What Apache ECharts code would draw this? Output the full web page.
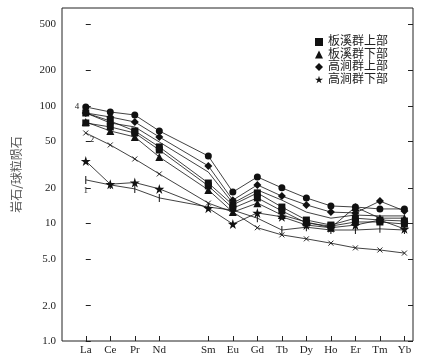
<!DOCTYPE html>
<html><head><meta charset="utf-8">
<script src="https://cdn.jsdelivr.net/npm/echarts@6/dist/echarts.min.js"></script>
<style>html,body{margin:0;padding:0;background:#fff}#c{width:428px;height:362px}</style>
</head><body><div id="c"></div>
<script>
// REE slots on the axis (Pm has a slot but no data / no label)
const elements = ['La','Ce','Pr','Nd','Pm','Sm','Eu','Gd','Tb','Dy','Ho','Er','Tm','Yb'];
const plotted  = ['La','Ce','Pr','Nd','Sm','Eu','Gd','Tb','Dy','Ho','Er','Tm','Yb'];
const yTicks = [1, 2, 5, 10, 20, 50, 100, 200, 500];

// values (chondrite-normalised), La..Yb
const ref4      = [98.1, 88.9, 83.8, 61.3, 37.5, 18.5, 24.9, 20.1, 16.5, 14.1, 13.8, 13.3, 13.3];
const ref3      = [87.2, 71.7, 66.3, 49.4, 27.4, 14.9, 19.3, 15.8, 12.5, 11.1, 11.8, 11.6, 11.6];
const ref2      = [58.9, 46.6, 35.4, 26.4, 14.9, 12.5, 9.2, 8.0, 7.4, 6.8, 6.2, 5.95, 5.6];
const ref1      = [23.5, 21.3, 19.7, 16.5, 13.8, 13.0, 11.1, 8.8, 9.3, 8.8, 8.8, 9.0, 8.8];
const bxUpperA  = [87.2, 74.5, 61.3, 44.8, 22.1, 14.4, 18.2, 13.8, 10.7, 9.7, 11.1, 10.7, 10.5];
const bxUpperB  = [71.7, 66.3, 58.9, 42.2, 20.9, 13.5, 16.5, 12.8, 10.1, 9.5, 10.3, 10.3, 9.9];
const bxLower   = [73.1, 61.3, 54.5, 36.8, 19.3, 12.5, 14.9, 11.8, 10.3, 9.2, 13.8, 11.1, 11.1];
const gjUpper   = [87.2, 80.6, 73.1, 54.5, 30.9, 15.8, 21.3, 17.1, 14.4, 12.5, 12.3, 15.5, 12.8];
const gjLower   = [34.0, 21.6, 22.3, 19.7, 13.5, 9.9, 12.3, 11.4, 9.7, 9.2, 9.7, 10.7, 9.0];

const names = ['板溪群上部', '板溪群下部', '高涧群上部', '高涧群下部'];

const STAR = 'path://M50,0L61,35L98,35L68,57L79,91L50,70L21,91L32,57L2,35L39,35Z';
const CROSS = 'path://M0,0L10,10M10,0L0,10';
const INK = '#111';

function toData(values, firstLabel) {
  return plotted.map((el, i) => {
    const d = { value: [elements.indexOf(el), values[i]] };
    if (i === 0 && firstLabel) d.label = Object.assign({ show: true, color: '#222', fontSize: 9, fontFamily: 'Liberation Serif' }, firstLabel);
    return d;
  });
}
function mk(name, values, symbol, size, opts) {
  opts = opts || {};
  return Object.assign({
    name: name,
    type: 'line',
    data: toData(values, opts.firstLabel),
    symbol: symbol,
    symbolSize: size,
    showAllSymbol: true,
    lineStyle: { color: INK, width: 0.8 },
    itemStyle: { color: INK, borderColor: INK, borderWidth: opts.bw || 0 },
    emphasis: { disabled: true },
    animation: false,
    z: 3
  }, opts.extra || {});
}

const ref3Series = mk('ref3', ref3, 'none', 0);
ref3Series.data[4].label = { show: true, formatter: '3', position: 'left', distance: 2, fontSize: 9, color: '#222', fontFamily: 'Liberation Serif' };

const series = [
  mk('ref4', ref4, 'circle', 7, { firstLabel: { formatter: '4', position: 'left', distance: 3 } }),
  ref3Series,
  mk(names[0], bxUpperA, 'rect', 7),
  mk(names[0], bxUpperB, 'rect', 7),
  mk(names[1], bxLower, 'triangle', 8),
  mk(names[2], gjUpper, 'diamond', 8),
  mk(names[3], gjLower, STAR, 10),
  mk('ref2', ref2, CROSS, 5, { bw: 0.9, firstLabel: { formatter: '2', position: 'right', distance: 1, offset: [0, 7] } }),
  mk('ref1', ref1, 'rect', [1, 8], { firstLabel: { formatter: '1', position: 'bottom', distance: 2 } })
];

const yAxisBase = {
  type: 'log', logBase: 10, min: 1, max: 682,
  axisLine: { show: false },
  axisTick: { show: true, inside: true, length: 5, customValues: yTicks, lineStyle: { color: '#222', width: 1 } },
  splitLine: { show: false },
  minorTick: { show: false }
};

const chart = echarts.init(document.getElementById('c'), null, { renderer: 'canvas' });
chart.setOption({
  animation: false,
  backgroundColor: '#fff',
  grid: { left: 62, right: 15, top: 8, bottom: 21, show: true, borderColor: '#222', borderWidth: 1, backgroundColor: 'transparent' },
  legend: {
    orient: 'vertical', left: 310, top: 31,
    itemWidth: 8, itemHeight: 8, itemGap: 0.5,
    selectedMode: false,
    textStyle: { fontSize: 12, lineHeight: 11.3, color: '#222', fontFamily: "'Liberation Serif','Noto Sans CJK SC'" },
    data: [
      { name: names[0], icon: 'rect' },
      { name: names[1], icon: 'triangle' },
      { name: names[2], icon: 'diamond' },
      { name: names[3], icon: STAR }
    ]
  },
  xAxis: {
    type: 'value', min: -0.97, max: 13.35,
    axisLine: { show: false },
    axisTick: { show: true, inside: true, length: 5, customValues: plotted.map(e => elements.indexOf(e)), lineStyle: { color: '#222' } },
    axisLabel: { customValues: plotted.map(e => elements.indexOf(e)), formatter: v => elements[Math.round(v)], fontSize: 11, color: '#222', fontFamily: 'Liberation Serif', margin: 4 },
    splitLine: { show: false }
  },
  yAxis: [
    Object.assign({}, yAxisBase, {
      position: 'left',
      name: '岩石/球粒陨石', nameLocation: 'middle', nameGap: 40, nameRotate: 90,
      nameTextStyle: { fontSize: 12, color: '#555', fontFamily: 'Noto Sans CJK SC' },
      axisLabel: { customValues: yTicks, formatter: v => (v < 10 ? v.toFixed(1) : String(v)), fontSize: 11, color: '#222', fontFamily: 'Liberation Serif', margin: 6 }
    }),
    Object.assign({}, yAxisBase, { position: 'right', axisLabel: { show: false } })
  ],
  series: series
});
</script>
</body></html>
